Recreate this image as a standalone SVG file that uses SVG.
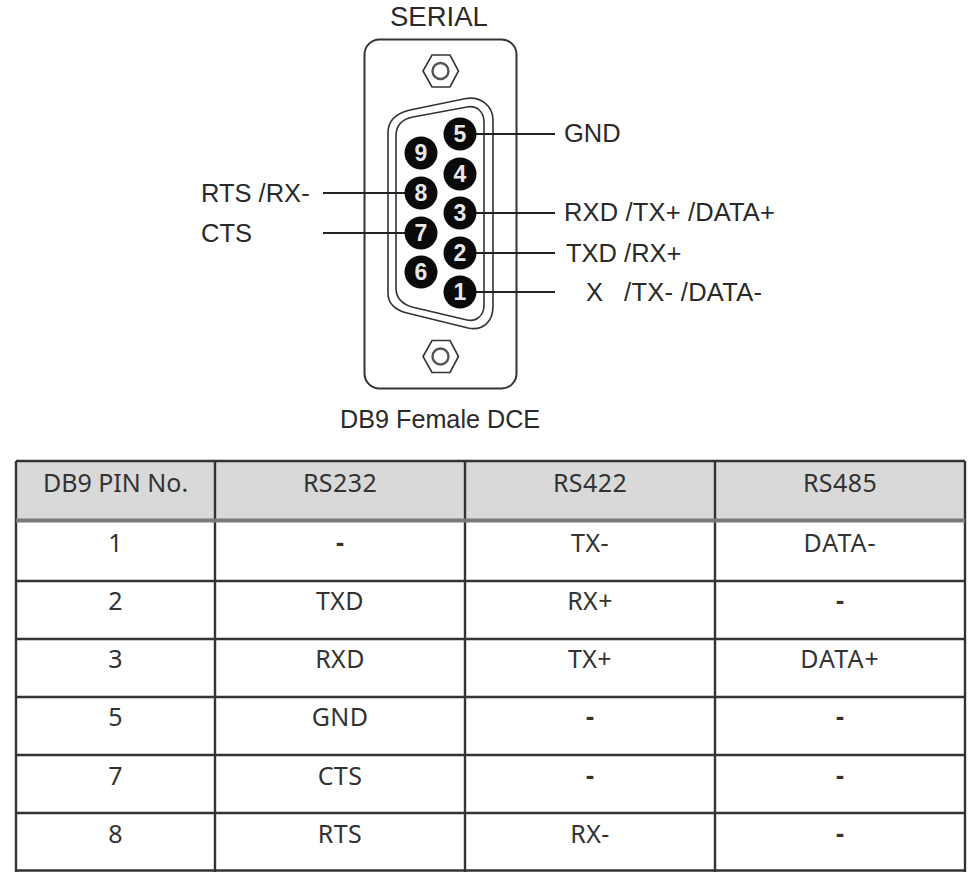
<svg xmlns="http://www.w3.org/2000/svg" width="975" height="881" viewBox="0 0 975 881">
<style>
.l{font-family:"Liberation Sans",Arial,sans-serif;font-size:25.5px;fill:#2a2a2a}
.t{font-family:"Noto Sans","Open Sans",sans-serif;font-size:25px;fill:#333;text-anchor:middle;letter-spacing:.4px}
.d{font-weight:700;letter-spacing:0}
.p{font-family:"Liberation Sans",Arial,sans-serif;font-size:23px;font-weight:bold;fill:#e8e8e8;text-anchor:middle}
.s{fill:none;stroke:#333;stroke-width:2}
.g{fill:none;stroke:#333;stroke-width:1.6}
.w{stroke:#222;stroke-width:2;fill:none}
.b{stroke:#333;stroke-width:2.4;fill:none}
</style>
<rect width="975" height="881" fill="#fff"/>
<g id="connector">
<rect class="s" x="364.500" y="39.500" width="152" height="349" rx="15"/>
<path id="shell-outer" class="g" d="M388 133C388 120 397 113 410 110L466 98.500C481 96 493 106 493 120V306C493 322 483 331 468 328L407 313C395 310 388 303 388 293Z"/>
<path id="shell-inner" class="g" d="M396 136C396 125 403 119 413 117L467 107C477 105 484 112 484 122V305C484 316 476 322 467 320L412 307C402 304 396 298 396 288Z"/>
<path class="g" d="M423 71L432 55H450L458.500 71L450 87H432Z"/><circle cx="440.500" cy="71" r="8" fill="none" stroke="#555" stroke-width="2.4"/>
<path class="g" d="M423 356.500L432 340.500H450L458.500 356.500L450 372.500H432Z"/><circle cx="440.500" cy="356.500" r="8" fill="none" stroke="#555" stroke-width="2.4"/>
</g>
<g id="connectors">
<path class="w" d="M460 134H555M460 213H555M460 253H555M460 292H555M323 193H421M323 233H421"/>
</g>
<g id="pin-5"><circle cx="460" cy="134" r="16.500" fill="#0a0a0a"/><text class="p" x="460" y="142">5</text></g>
<g id="pin-4"><circle cx="460" cy="174" r="16.500" fill="#0a0a0a"/><text class="p" x="460" y="182">4</text></g>
<g id="pin-3"><circle cx="460" cy="213" r="16.500" fill="#0a0a0a"/><text class="p" x="460" y="221">3</text></g>
<g id="pin-2"><circle cx="460" cy="253" r="16.500" fill="#0a0a0a"/><text class="p" x="460" y="261">2</text></g>
<g id="pin-1"><circle cx="460" cy="292" r="16.500" fill="#0a0a0a"/><text class="p" x="460" y="300">1</text></g>
<g id="pin-9"><circle cx="421" cy="153" r="16.500" fill="#0a0a0a"/><text class="p" x="421" y="161">9</text></g>
<g id="pin-8"><circle cx="421" cy="193" r="16.500" fill="#0a0a0a"/><text class="p" x="421" y="201">8</text></g>
<g id="pin-7"><circle cx="421" cy="233" r="16.500" fill="#0a0a0a"/><text class="p" x="421" y="241">7</text></g>
<g id="pin-6"><circle cx="421" cy="272" r="16.500" fill="#0a0a0a"/><text class="p" x="421" y="280">6</text></g>
<g id="labels">
<text class="l" x="390" y="26" style="font-size:27.500px">SERIAL</text>
<text class="l" x="564" y="142">GND</text>
<text class="l" x="564" y="221" style="letter-spacing:.15px">RXD /TX+ /DATA+</text>
<text class="l" x="566" y="262">TXD /RX+</text>
<text class="l" x="586" y="301">X</text>
<text class="l" x="624" y="301" style="letter-spacing:.3px">/TX- /DATA-</text>
<text class="l" x="201" y="202">RTS /RX-</text>
<text class="l" x="201" y="242">CTS</text>
<text class="l" x="340" y="428" style="font-size:25.200px">DB9 Female DCE</text>
</g>
<g id="table">
<rect x="16" y="461" width="949" height="59" fill="#d9d9d9"/>
<path class="b" d="M16 461H965M16 581H965M16 639H965M16 697H965M16 755H965M16 813H965M16 870.500H965M16 461V872M215 461V872M465 461V872M715 461V872M965 461V872"/>
<path d="M16 520.500H965" stroke="#7a7a7a" stroke-width="4"/>
<g class="t">
<text x="115.500" y="492" style="letter-spacing:0">DB9 PIN No.</text><text x="340" y="492">RS232</text><text x="590" y="492">RS422</text><text x="840" y="492">RS485</text>
<text x="115.500" y="552">1</text><text class="d" x="340" y="551">-</text><text x="590" y="552">TX-</text><text x="840" y="552" style="letter-spacing:1px">DATA-</text>
<text x="115.500" y="610">2</text><text x="340" y="610">TXD</text><text x="590" y="610">RX+</text><text class="d" x="840" y="609">-</text>
<text x="115.500" y="668">3</text><text x="340" y="668">RXD</text><text x="590" y="668">TX+</text><text x="840" y="668" style="letter-spacing:1px">DATA+</text>
<text x="115.500" y="726">5</text><text x="340" y="726">GND</text><text class="d" x="590" y="725">-</text><text class="d" x="840" y="725">-</text>
<text x="115.500" y="785">7</text><text x="340" y="785">CTS</text><text class="d" x="590" y="784">-</text><text class="d" x="840" y="784">-</text>
<text x="115.500" y="843">8</text><text x="340" y="843">RTS</text><text x="590" y="843">RX-</text><text class="d" x="840" y="842">-</text>
</g>
</g>
</svg>
